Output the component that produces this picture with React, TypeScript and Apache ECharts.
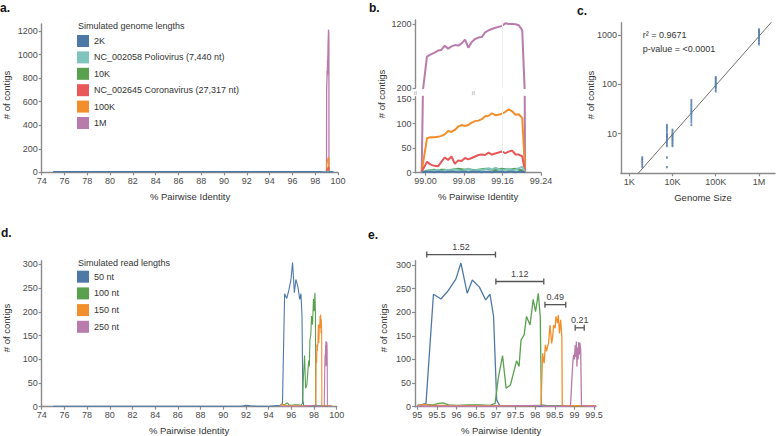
import React, { useEffect, useRef } from "react";
import * as echarts from "echarts";

// ---------- Panel b (zoom of the genome-length peak) ----------
const bX = [98.992, 99.003, 99.01, 99.018, 99.026, 99.033, 99.04, 99.047, 99.054, 99.061, 99.068, 99.075, 99.082, 99.089, 99.096, 99.103, 99.11, 99.117, 99.124, 99.131, 99.138, 99.145, 99.152, 99.159, 99.166, 99.173, 99.18, 99.187, 99.194, 99.201, 99.207];
const bPurple = [0, 690, 720, 750, 784, 794, 860, 815, 850, 870, 862, 898, 955, 830, 920, 965, 988, 995, 1070, 1100, 1122, 1140, 1155, 1170, 1212, 1200, 1198, 1195, 1180, 1100, 0];
const bOrange = [1, 70, 72, 72, 73, 75, 78, 85, 83, 87, 94, 97, 95, 97, 102, 105, 106, 109, 115, 116, 121, 117, 118, 120, 124, 129, 125, 118, 119, 111, 2];
const bRed = [2, 22, 17, 14, 13, 22, 31, 26, 33, 18, 25, 24, 30, 27, 30, 33, 36, 37, 36, 41, 37, 39, 41, 43, 40, 43, 45, 37, 37, 33, 2];
const bGreen = [1, 4, 5, 6, 5, 6, 6, 5, 6, 7, 8, 7, 6, 7, 6, 5, 6, 7, 8, 7, 6, 5, 7, 8, 7, 6, 7, 8, 6, 5, 1];
const bTeal = [1, 3, 5, 4, 6, 3, 5, 6, 4, 7, 5, 3, 6, 8, 5, 4, 6, 5, 7, 9, 6, 10, 7, 5, 6, 8, 4, 6, 9, 12, 2];
const bBlue = [1, 2, 2, 1, 2, 2, 1, 2, 2, 2, 1, 2, 2, 1, 2, 2, 2, 1, 2, 2, 1, 2, 2, 2, 1, 2, 2, 1, 2, 2, 1];

// ---------- Panel a (full range) extra baseline points for 2K ----------
const aLeadX = [75, 80, 85, 90, 95, 98.5];
const aLeadBlue = [5, 5, 5, 5, 5, 5];
const aTailX = [99.4, 99.6];
const aTailBlue = [5, 5];

// ---------- Panel c ----------
const cSizes = [2000, 7440, 10000, 27317, 100000, 1000000];
const c2K = [2.1, 2.3, 2.5, 2.7, 2.9, 3.1, 3.3];
const cPolio = [2.1, 3.3, 5.6, 6, 6.5, 7, 7.5, 8, 8.5, 9, 9.5, 10, 11, 12, 13, 14, 15];
const c10K = [5.6, 6, 6.5, 7, 7.5, 8, 8.5, 9, 9.5, 10, 11, 12];
const cCorona = [15, 17, 19, 21, 23, 25, 27, 29, 31, 34, 37, 40, 44, 48];
const c100K = [72, 78, 85, 90, 95, 100, 105, 110, 117, 125, 132, 140];
const c1M = [650, 700, 760, 820, 880, 940, 1000, 1060, 1120, 1180, 1240, 1300];
const cCounts = [c2K, cPolio, c10K, cCorona, c100K, c1M];
const cFitSlope = 0.995;
const cFitIntercept = -2.995;
const cFitRange = [1610, 2700000];

// ---------- Panel d / e (read lengths) ----------
const dLeadX = [75, 80, 85, 90, 91.6, 92.0, 92.4, 93.0, 94.0];
const dLeadBlue = [1, 1, 1, 1, 1, 3, 2, 1, 1];
const eBlueX = [95.0, 95.1, 95.22, 95.41, 95.6, 95.79, 95.98, 96.11, 96.27, 96.4, 96.58, 96.74, 96.85, 96.94, 97.02, 97.1, 97.5, 98.0, 98.5, 99.0, 99.55];
const eBlueY = [3, 4, 7, 238, 228, 246, 270, 304, 240, 268, 253, 226, 238, 192, 14, 2, 1, 1, 1, 1, 1];
const eGreenX = [95.0, 95.2, 95.4, 95.55, 95.65, 95.8, 96.0, 96.3, 96.6, 96.85, 96.98, 97.06, 97.17, 97.26, 97.37, 97.49, 97.53, 97.59, 97.64, 97.72, 97.78, 97.87, 97.95, 98.01, 98.08, 98.13, 98.16, 98.3, 98.8, 99.3, 99.55];
const eGreenY = [2, 5, 4, 7, 8, 4, 3, 4, 4, 3, 7, 60, 108, 39, 46, 85, 97, 85, 141, 152, 191, 173, 227, 201, 240, 191, 4, 2, 2, 2, 2];
const eOrangeX = [95.0, 95.2, 95.3, 95.6, 96.0, 96.5, 97.0, 97.5, 98.0, 98.15, 98.19, 98.21, 98.23, 98.26, 98.29, 98.32, 98.34, 98.38, 98.42, 98.45, 98.47, 98.51, 98.53, 98.57, 98.59, 98.62, 98.65, 98.68, 98.69, 98.75, 99.2, 99.55];
const eOrangeY = [2, 5, 3, 3, 2, 2, 2, 2, 2, 3, 113, 100, 92, 131, 117, 128, 134, 173, 134, 150, 173, 166, 191, 177, 194, 155, 184, 148, 4, 2, 2, 2];
const ePurpleX = [95.0, 96.0, 97.0, 98.15, 98.2, 98.9, 98.96, 98.98, 99.0, 99.02, 99.035, 99.05, 99.065, 99.08, 99.095, 99.11, 99.125, 99.14, 99.16, 99.18, 99.3, 99.55];
const ePurpleY = [1, 1, 1, 3, 1, 1, 95, 110, 100, 130, 105, 138, 85, 125, 100, 137, 110, 135, 120, 3, 1, 1];
const eBracketStart = [95.24, 97.0, 98.25, 99.02];
const eBracketEnd = [96.99, 98.22, 98.78, 99.25];
const eBracketY = [322, 265, 216, 167];
const eBracketLabel = ["1.52", "1.12", "0.49", "0.21"];

// ---------- ticks ----------
const aTicksX = [74, 76, 78, 80, 82, 84, 86, 88, 90, 92, 94, 96, 98, 100];
const aTicksY = [0, 200, 400, 600, 800, 1000, 1200];
const bTicksX = [99.0, 99.08, 99.16, 99.24];
const bTicksYUpper = [200, 1200];
const bTicksYLower = [0, 50, 100, 150];
const cTickSizes = [1000, 10000, 100000, 1000000];
const cTickSizeLabels = ["1K", "10K", "100K", "1M"];
const cTickCounts = [10, 100, 1000];
const dTicksY = [0, 50, 100, 150, 200, 250, 300];
const eTicksX = [95, 95.5, 96, 96.5, 97, 97.5, 98, 98.5, 99, 99.5];

const genomeNames = ["2K", "NC_002058 Poliovirus (7,440 nt)", "10K", "NC_002645 Coronavirus (27,317 nt)", "100K", "1M"];
const readNames = ["50 nt", "100 nt", "150 nt", "250 nt"];

const FONT = "'Liberation Sans', Arial, Helvetica, sans-serif";
const AXIS = "#8a8a8a";
const TXT = "#4a4a4a";
const C = {
  blue: "#4e79a7",
  teal: "#80c4bd",
  green: "#59a14f",
  red: "#e8575a",
  orange: "#f28e2b",
  purple: "#b87bab",
};

const pairs = (xs: number[], ys: number[]) => xs.map((x, i) => [x, ys[i]]);

function axis(gridIndex: number, min: number, max: number, ticks: number[] | null, fmt?: (v: number) => string, show = true) {
  return {
    type: "value",
    gridIndex,
    min,
    max,
    show,
    axisLine: { show: true, onZero: false, lineStyle: { color: AXIS, width: 1.4 } },
    axisTick: { show: !!ticks, length: 3, customValues: ticks || undefined, lineStyle: { color: AXIS, width: 1.2 } },
    axisLabel: {
      show: !!ticks,
      customValues: ticks || undefined,
      color: TXT,
      fontSize: 9,
      fontFamily: FONT,
      margin: 4,
      formatter: fmt || ((v: number) => String(v)),
    },
    splitLine: { show: false },
  };
}

function line(name: string, color: string, data: any[], xi: number, width: number, z = 2) {
  return {
    type: "line",
    name,
    color,
    xAxisIndex: xi,
    yAxisIndex: xi,
    data,
    showSymbol: false,
    symbol: "none",
    lineStyle: { width, color },
    z,
  };
}

function txt(text: string, x: number, y: number, opts: any = {}) {
  return {
    type: "text",
    x,
    y,
    rotation: opts.rotation || 0,
    silent: true,
    style: {
      text,
      fill: opts.fill || "#333",
      fontSize: opts.fontSize || 9.5,
      fontFamily: FONT,
      fontWeight: opts.bold ? "bold" : "normal",
      align: opts.align || "center",
      verticalAlign: "middle",
    },
  };
}

function guide(xi: number) {
  return {
    type: "line",
    xAxisIndex: xi,
    yAxisIndex: xi,
    data: [],
    silent: true,
    markLine: {
      silent: true,
      symbol: "none",
      label: { show: false },
      lineStyle: { color: "#efefef", width: 1, type: "solid" },
      data: [{ xAxis: 99.16 }],
    },
    z: 1,
  };
}

export default function App() {
  const ref = useRef<HTMLDivElement>(null);
  useEffect(() => {
    if (!ref.current) return;
    const chart = echarts.init(ref.current, null, { renderer: "svg", width: 778, height: 436 });

    const bVals = [bBlue, bTeal, bGreen, bRed, bOrange, bPurple];
    const gColors = [C.blue, C.teal, C.green, C.red, C.orange, C.purple];
    const drawOrder = [5, 4, 3, 2, 1, 0];

    const series: any[] = [];
    // panel a
    drawOrder.forEach((i) => {
      const data =
        i === 0
          ? [...pairs(aLeadX, aLeadBlue), ...pairs(bX, bBlue), ...pairs(aTailX, aTailBlue)]
          : pairs(bX, bVals[i]);
      series.push(line(genomeNames[i], gColors[i], data, 0, 1.3, 2 + (5 - i)));
    });
    // panel b upper
    series.push(guide(1));
    series.push(line(genomeNames[5], C.purple, pairs(bX, bPurple), 1, 2));
    // panel b lower
    series.push(guide(2));
    drawOrder.forEach((i) => {
      series.push(line(genomeNames[i], gColors[i], pairs(bX, bVals[i]), 2, 2, 2 + (5 - i)));
    });
    // panel c
    const cData: number[][] = [];
    cSizes.forEach((s, i) => cCounts[i].forEach((c) => cData.push([Math.log10(s), Math.log10(c)])));
    series.push({
      type: "scatter",
      xAxisIndex: 3,
      yAxisIndex: 3,
      data: cData,
      symbol: "rect",
      symbolSize: [1.8, 2.4],
      itemStyle: { color: C.blue },
      z: 3,
    });
    series.push({
      type: "line",
      xAxisIndex: 3,
      yAxisIndex: 3,
      data: cFitRange.map((x) => [Math.log10(x), cFitIntercept + cFitSlope * Math.log10(x)]),
      showSymbol: false,
      symbol: "none",
      lineStyle: { color: "#6e6e6e", width: 1 },
      z: 2,
    });
    // panel d
    const readX = [eBlueX, eGreenX, eOrangeX, ePurpleX];
    const readY = [eBlueY, eGreenY, eOrangeY, ePurpleY];
    const rColors = [C.blue, C.green, C.orange, C.purple];
    [3, 2, 1, 0].forEach((i) => {
      const data = i === 0 ? [...pairs(dLeadX, dLeadBlue), ...pairs(readX[i], readY[i])] : pairs(readX[i], readY[i]);
      series.push(line(readNames[i], rColors[i], data, 4, 1.1, 2 + i));
    });
    // panel e
    [3, 2, 1, 0].forEach((i) => {
      series.push(line(readNames[i], rColors[i], pairs(readX[i], readY[i]), 5, 1.3, 2 + i));
    });
    series.push({
      type: "custom",
      xAxisIndex: 5,
      yAxisIndex: 5,
      clip: false,
      silent: true,
      data: eBracketStart.map((s, i) => [s, eBracketEnd[i], eBracketY[i]]),
      encode: { x: [0, 1], y: 2 },
      renderItem: (params: any, api: any) => {
        const p1 = api.coord([api.value(0), api.value(2)]);
        const p2 = api.coord([api.value(1), api.value(2)]);
        const st = { stroke: "#555", lineWidth: 1.3 };
        return {
          type: "group",
          children: [
            { type: "line", shape: { x1: p1[0], y1: p1[1], x2: p2[0], y2: p2[1] }, style: st },
            { type: "line", shape: { x1: p1[0], y1: p1[1] - 3, x2: p1[0], y2: p1[1] + 3 }, style: st },
            { type: "line", shape: { x1: p2[0], y1: p2[1] - 3, x2: p2[0], y2: p2[1] + 3 }, style: st },
            {
              type: "text",
              style: {
                text: eBracketLabel[params.dataIndex],
                x: (p1[0] + p2[0]) / 2,
                y: p1[1] - 3,
                align: "center",
                verticalAlign: "bottom",
                fill: "#444",
                fontSize: 9,
                fontFamily: FONT,
              },
            },
          ],
        };
      },
    });

    const legendBase = {
      orient: "vertical",
      icon: "rect",
      itemWidth: 12,
      itemHeight: 12,
      selectedMode: false,
      textStyle: { fontSize: 9, color: "#333", fontFamily: FONT },
      padding: 0,
    };

    const cXfmt = (v: number) => {
      const k = cTickSizes.findIndex((s) => Math.abs(Math.log10(s) - v) < 1e-6);
      return k >= 0 ? cTickSizeLabels[k] : "";
    };
    const cYfmt = (v: number) => String(Math.round(Math.pow(10, v)));

    const option: any = {
      animation: false,
      backgroundColor: "#ffffff",
      textStyle: { fontFamily: FONT },
      grid: [
        { left: 41.7, right: 440, top: 24, bottom: 263.7, outerBoundsMode: "none" },
        { left: 415.6, right: 237, top: 20, bottom: 348, outerBoundsMode: "none" },
        { left: 415.6, right: 237, top: 96.7, bottom: 263.3, outerBoundsMode: "none" },
        { left: 621, right: 3, top: 22.7, bottom: 262.7, outerBoundsMode: "none" },
        { left: 41.7, right: 441.3, top: 260.7, bottom: 29.3, outerBoundsMode: "none" },
        { left: 415, right: 182, top: 260.7, bottom: 29.3, outerBoundsMode: "none" },
      ],
      xAxis: [
        axis(0, 74, 100, aTicksX),
        { ...axis(1, 98.9794, 99.24, null), axisLine: { show: false } },
        axis(2, 98.9794, 99.24, bTicksX, (v: number) => v.toFixed(2)),
        axis(3, 2.81, 6.37, cTickSizes.map((s) => Math.log10(s)), cXfmt),
        axis(4, 74, 100, aTicksX),
        axis(5, 94.94, 99.55, eTicksX),
      ],
      yAxis: [
        axis(0, 0, 1260, aTicksY),
        axis(1, 200, 1262, bTicksYUpper),
        axis(2, 0, 154.7, bTicksYLower),
        axis(3, 0.197, 3.25, cTickCounts.map((c) => Math.log10(c)), cYfmt),
        axis(4, 0, 307.6, dTicksY),
        axis(5, 0, 309, dTicksY),
      ],
      legend: [
        { ...legendBase, data: genomeNames, left: 77, top: 35, itemGap: 4.4 },
        { ...legendBase, data: readNames, left: 77, top: 270.7, itemGap: 4.7 },
      ],
      graphic: [
        txt("a.", 0, 8, { bold: true, fontSize: 12, align: "left", fill: "#111" }),
        txt("b.", 369, 8, { bold: true, fontSize: 12, align: "left", fill: "#111" }),
        txt("c.", 577, 11, { bold: true, fontSize: 12, align: "left", fill: "#111" }),
        txt("d.", 1, 233, { bold: true, fontSize: 12, align: "left", fill: "#111" }),
        txt("e.", 368, 235, { bold: true, fontSize: 12, align: "left", fill: "#111" }),
        txt("Simulated genome lengths", 78, 26, { align: "left", fontSize: 9 }),
        txt("Simulated read lengths", 78, 263.3, { align: "left", fontSize: 9 }),
        txt("# of contigs", 6, 95, { rotation: Math.PI / 2 }),
        txt("% Pairwise Identity", 190, 196),
        txt("# of contigs", 381.5, 94, { rotation: Math.PI / 2 }),
        txt("% Pairwise Identity", 478, 196),
        txt("# of contigs", 590.5, 95, { rotation: Math.PI / 2 }),
        txt("Genome Size", 703, 197),
        txt("# of contigs", 6, 328, { rotation: Math.PI / 2 }),
        txt("% Pairwise Identity", 189, 430.5),
        txt("# of contigs", 383, 328, { rotation: Math.PI / 2 }),
        txt("% Pairwise Identity", 501, 430.5),
        txt("r² = 0.9671", 642.7, 35, { align: "left", fontSize: 9 }),
        txt("p-value = <0.0001", 642.7, 48.5, { align: "left", fontSize: 9 }),
        txt("≈", 415.6, 93, { rotation: Math.PI / 2, fontSize: 8, fill: "#999" }),
        txt("≈", 473, 93, { rotation: Math.PI / 2, fontSize: 8, fill: "#999" }),
      ],
      series,
    };
    chart.setOption(option);
    return () => chart.dispose();
  }, []);
  return (
    <div
      ref={ref}
      style={{ position: "fixed", left: 0, top: 0, width: 778, height: 436, background: "#fff" }}
    />
  );
}
